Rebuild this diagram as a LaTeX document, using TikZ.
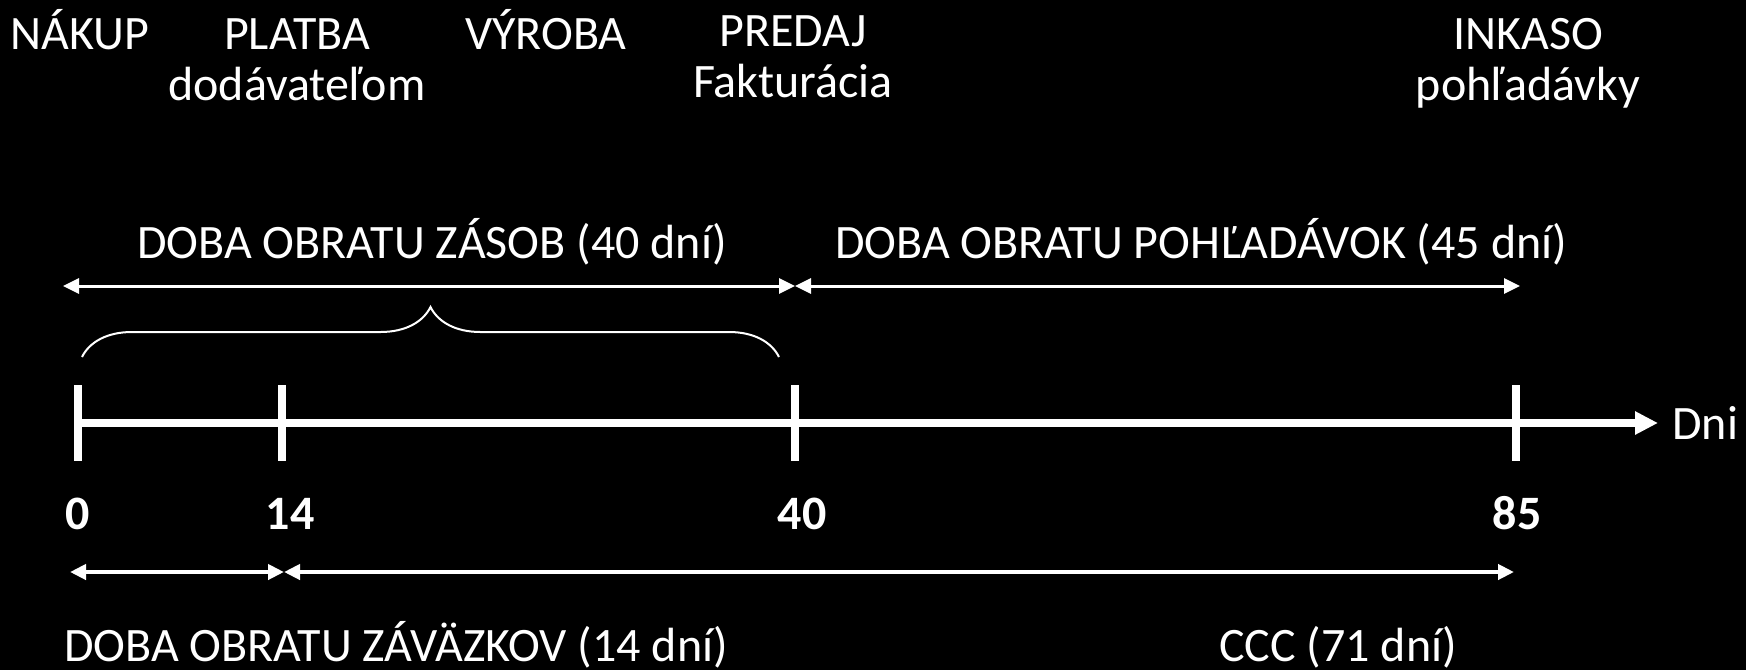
\documentclass[tikz,border=0pt]{standalone}
\usepackage{fontspec}
\setmainfont{Carlito}
\usetikzlibrary{arrows.meta,decorations.pathreplacing}
\tikzstyle{lbl} = [text=white, font=\fontsize{24}{25.5}\selectfont, align=center, inner sep=0pt]
\tikzstyle{num} = [lbl, font=\fontsize{24}{25.5}\selectfont\bfseries]
\tikzstyle{notch} = [draw=white, line width=4pt]
\tikzstyle{axis} = [draw=white, line width=4pt, -{Triangle[length=11.5pt,width=11pt]}]
\tikzstyle{period} = [draw=white, line width=1.5pt, {Triangle[length=8pt,width=7.5pt]}-{Triangle[length=8pt,width=7.5pt]}]
\tikzstyle{debt} = [period, line width=2.2pt]
\begin{document}
\begin{tikzpicture}[x=0.5pt, y=-0.5pt]
			\useasboundingbox (0,0) rectangle (1746,670);
			\fill[black] (0,0) rectangle (1746,670);
			% udalosti
			\node [lbl, anchor=base] (nakup) at (80,49) {NÁKUP};
			\node [lbl, anchor=base] (platba) at (297,100) {PLATBA\\dodávateľom};
			\node [lbl, anchor=base] (vyroba) at (546,49) {VÝROBA};
			\node [lbl, anchor=base] (predaj) at (793,97) {PREDAJ\\Fakturácia};
			\node [lbl, anchor=base] (inkaso) at (1528,100) {INKASO\\pohľadávky};
			% os
			\coordinate (t0) at (78,423);
			\coordinate (t14) at (282,423);
			\coordinate (t40) at (795,423);
			\coordinate (t85) at (1516,423);
			\node [lbl, anchor=west] (dni) at (1672,423) {Dni};
			\draw [axis] (t0) -- ([xshift=-7pt]dni.west);
			\foreach \t in {t0,t14,t40,t85}
				\draw [notch] ([yshift=19pt]\t) -- ([yshift=-19pt]\t);
			\node [num, anchor=base] (n0) at (78,529) {0};
			\node [num, anchor=base] (n14) at (290,529) {14};
			\node [num, anchor=base] (n40) at (802,529) {40};
			\node [num, anchor=base] (n85) at (1517,529) {85};
			% obrat zasob a pohladavok
			\coordinate (a0) at (63,286);
			\coordinate (a40) at (795,286);
			\coordinate (a85) at (1520,286);
			\draw [period] (a0) -- (a40);
			\draw [period] (a40) -- (a85);
			\node [lbl, anchor=base] (zasob) at (432,258) {DOBA OBRATU ZÁSOB (40 dní)};
			\node [lbl, anchor=base] (pohl) at (1201,258) {DOBA OBRATU POHĽADÁVOK (45 dní)};
			\coordinate (br0) at (82,357);
			\coordinate (br40) at (779,357);
			\draw [white, line width=1pt, decorate, decoration={brace, amplitude=25pt}] (br0) -- (br40);
			% zavazky a CCC
			\coordinate (b0) at (70,572);
			\coordinate (b14) at (284,572);
			\coordinate (b85) at (1514,572);
			\draw [debt] (b0) -- (b14);
			\draw [debt] (b14) -- (b85);
			\node [lbl, anchor=base] (zav) at (396,661) {DOBA OBRATU ZÁVÄZKOV (14 dní)};
			\node [lbl, anchor=base] (ccc) at (1338,661) {CCC (71 dní)};
		\end{tikzpicture}
\end{document}
